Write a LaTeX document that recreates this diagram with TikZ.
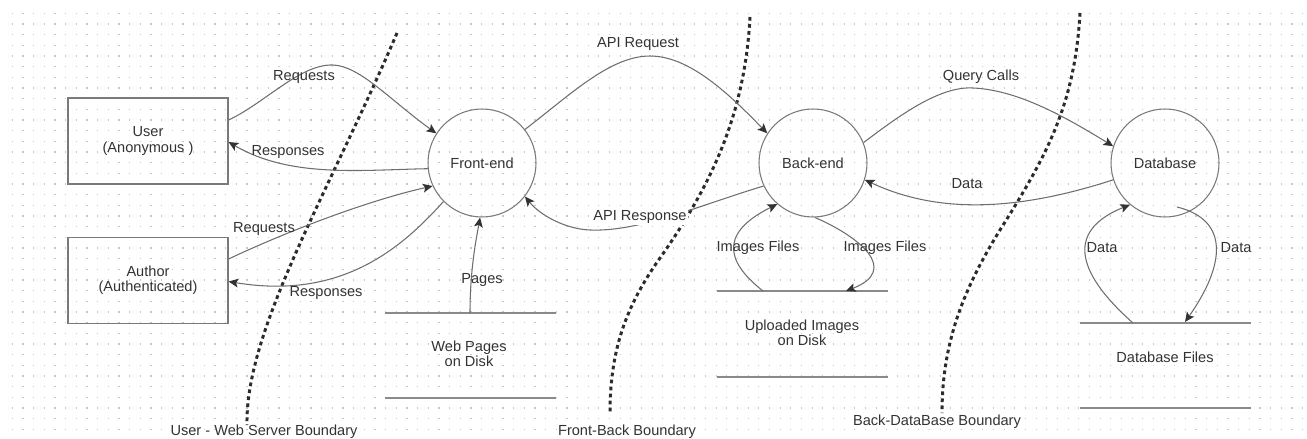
\documentclass[tikz,border=0pt]{standalone}
\usepackage{fontspec}
\setmainfont{Liberation Sans}
\usetikzlibrary{arrows.meta,calc}
\definecolor{ink}{HTML}{333333}
\definecolor{wire}{HTML}{6E6E6E}
\definecolor{rim}{HTML}{7A7A7A}
\definecolor{gridc}{HTML}{C8C8C8}
\definecolor{storec}{HTML}{8A8A8A}
\tikzset{
  entity/.style={draw=rim, line width=0.7pt, rectangle, minimum width=3.2cm, minimum height=1.72cm, align=center, text=ink},
  proc/.style={draw=rim, line width=0.6pt, circle, minimum size=2.16cm, inner sep=0pt, text=ink},
  flow/.style={draw=wire, line width=0.6pt, -{Stealth[length=5.5pt,width=5pt,inset=1.2pt,color=ink]}},
  lbl/.style={text=ink, inner sep=1pt},
  storeline/.style={draw=storec, line width=1.1pt},
  storetxt/.style={text=ink, align=center},
  bound/.style={draw=ink!85!black, line width=1.7pt, dash pattern=on 2.1pt off 1.9pt},
  bndlbl/.style={text=ink, inner sep=0pt}
}
\begin{document}
\begin{tikzpicture}[x=0.02cm, y=-0.02cm, font=\fontsize{8.3}{8.7}\selectfont]
\useasboundingbox (0,0) rectangle (1307,439);
\fill[white] (0,0) rectangle (1307,439);

% dotted background grid
\foreach \k in {0,...,39}{
  \draw[gridc, line width=0.7pt, dash pattern=on 0.7pt off 5.37pt]
    (11.7,{13.3+10.667*\k}) -- (1305,{13.3+10.667*\k});
}

% external entities
\node[entity] (user) at (148,141) {User\\(Anonymous )};
\node[entity] (author) at (148,280.5) {Author\\(Authenticated)};

% processes
\node[proc] (fe) at (482,163) {Front-end};
\node[proc] (be) at (813,163) {Back-end};
\node[proc] (db) at (1165,163) {Database};

% data stores
\coordinate (wp-l1) at (385,313); \coordinate (wp-r1) at (556,313);
\coordinate (wp-l2) at (385,398); \coordinate (wp-r2) at (556,398);
\draw[storeline] (wp-l1) -- (wp-r1);
\draw[storeline] (wp-l2) -- (wp-r2);
\node[storetxt] (wp) at (469,354) {Web Pages\\on Disk};
\coordinate (wp-out) at (470,313);

\coordinate (up-l1) at (717,291); \coordinate (up-r1) at (888,291);
\coordinate (up-l2) at (717,377); \coordinate (up-r2) at (888,377);
\draw[storeline] (up-l1) -- (up-r1);
\draw[storeline] (up-l2) -- (up-r2);
\node[storetxt] (up) at (802,333) {Uploaded Images\\on Disk};
\coordinate (up-out) at (763,291);
\coordinate (up-in) at (846,291);

\coordinate (dbf-l1) at (1080,323); \coordinate (dbf-r1) at (1251,323);
\coordinate (dbf-l2) at (1080,408); \coordinate (dbf-r2) at (1251,408);
\draw[storeline] (dbf-l1) -- (dbf-r1);
\draw[storeline] (dbf-l2) -- (dbf-r2);
\node[storetxt] (dbf) at (1165,357) {Database Files};
\coordinate (dbf-out) at (1133,323);
\coordinate (dbf-in) at (1185,322);

% trust boundaries
\draw[bound] (397,33) .. controls (330,190) and (245,330) .. (247,425);
\draw[bound] (750,17) .. controls (745,110) and (715,180) .. (660,258)
             .. controls (626,306) and (610,350) .. (610,413);
\draw[bound] (1080,13) .. controls (1075,100) and (1050,150) .. (1005,222)
             .. controls (965,285) and (942,340) .. (942,413);
\node[bndlbl] (b1) at (264,432) {User - Web Server Boundary};
\node[bndlbl] (b2) at (627,432) {Front-Back Boundary};
\node[bndlbl] (b3) at (937,422) {Back-DataBase Boundary};

% flows between user / author and front-end
\draw[flow] ($(user.east)+(0,-21)$) .. controls (265,103) and (300,64) .. (333,65)
            .. controls (360,66) and (390,100) .. (fe.147);
\draw[flow] (fe.186) .. controls (360,170) and (290,178) .. ($(user.east)+(0,1)$);
\draw[flow] ($(author.east)+(0,-21.5)$) .. controls (290,230) and (370,200) .. (fe.205);
\draw[flow] (fe.225) .. controls (400,250) and (340,300) .. ($(author.east)+(0,1)$);

% front-end <-> back-end
\draw[flow] (fe.38) .. controls (570,95) and (610,56) .. (650,56)
            .. controls (690,56) and (730,95) .. (be.147);
\draw[flow] (be.205) .. controls (700,205) and (640,232) .. (590,230)
            .. controls (565,229) and (540,215) .. (fe.322);

% web pages -> front-end
\draw[flow] (wp-out) .. controls (470,270) and (476,240) .. (fe.268);

% uploaded images <-> back-end
\draw[flow] (up-out) .. controls (730,265) and (715,235) .. (be.229);
\draw[flow] (be.272) .. controls (860,237) and (900,270) .. (up-in);

% back-end <-> database
\draw[flow] (be.22) .. controls (900,115) and (940,86) .. (973,88)
            .. controls (1020,90) and (1070,120) .. (db.162);
\draw[flow] (db.198) .. controls (1020,210) and (940,215) .. (be.342);

% database <-> database files
\draw[flow] (dbf-out) .. controls (1090,285) and (1055,235) .. (db.230);
\draw[flow] ($(db.center)+(12,44)$) .. controls (1230,220) and (1225,265) .. (dbf-in);

% flow labels
\node[lbl] (l1) at (304,77) {Requests};
\node[lbl] (l2) at (288,152) {Responses};
\node[lbl] (l3) at (264,229) {Requests};
\node[lbl] (l4) at (326,293) {Responses};
\node[lbl] (l5) at (638,44) {API Request};
\node[lbl, fill=white] (l6) at (640,217) {API Response};
\node[lbl] (l7) at (482,280) {Pages};
\node[lbl] (l8) at (758,248) {Images Files};
\node[lbl] (l9) at (885,248) {Images Files};
\node[lbl] (l10) at (981,77) {Query Calls};
\node[lbl] (l11) at (967,184) {Data};
\node[lbl] (l12) at (1102,248) {Data};
\node[lbl] (l13) at (1236,248) {Data};
\end{tikzpicture}
\end{document}
